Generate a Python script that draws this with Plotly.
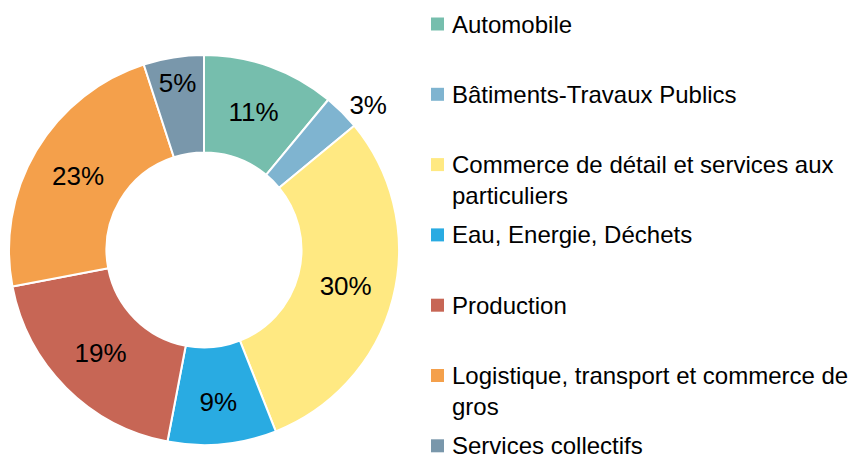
import plotly.graph_objects as go

labels = ["Automobile", "Bâtiments-Travaux Publics",
          "Commerce de détail et services aux particuliers",
          "Eau, Energie, Déchets", "Production",
          "Logistique, transport et commerce de gros", "Services collectifs"]
legend_text = ["Automobile", "Bâtiments-Travaux Publics",
               "Commerce de détail et services aux<br>particuliers",
               "Eau, Energie, Déchets", "Production",
               "Logistique, transport et commerce de<br>gros", "Services collectifs"]
values = [11, 3, 30, 9, 19, 23, 5]
colors = ["#76BEAD", "#7FB4D0", "#FFE982", "#29ABE2", "#C76655", "#F4A04B", "#7997AB"]
text_pos = ["inside", "outside", "inside", "inside", "inside", "inside", "inside"]

FONT = "Liberation Sans Narrow, Arial Narrow, Liberation Sans, Arial, sans-serif"
W, H = 852, 462
cx, cy, r = 204, 250, 195

fig = go.Figure(go.Pie(
    labels=labels, values=values, sort=False, direction="clockwise", rotation=0,
    hole=0.5, marker=dict(colors=colors, line=dict(color="white", width=2)),
    texttemplate="%{value}%", textposition=text_pos,
    insidetextorientation="horizontal",
    textfont=dict(family=FONT, size=26, color="black"),
    showlegend=False, hoverinfo="label+value",
    domain=dict(x=[(cx - r) / W, (cx + r) / W], y=[(H - cy - r) / H, (H - cy + r) / H]),
))

y0, step, lh = 24, 70.3, 31.2
for i, (t, c) in enumerate(zip(legend_text, colors)):
    yc = y0 + i * step
    nlines = t.count("<br>") + 1
    fig.add_shape(type="rect", xref="paper", yref="paper",
                  x0=431 / W, x1=444 / W, y0=1 - (yc - 6.5) / H, y1=1 - (yc + 6.5) / H,
                  fillcolor=c, line=dict(width=0))
    fig.add_annotation(xref="paper", yref="paper", x=451 / W,
                       y=1 - (yc + (nlines - 1) * lh / 2) / H,
                       xanchor="left", yanchor="middle", text=t, showarrow=False,
                       align="left", borderpad=0,
                       font=dict(family=FONT, size=24, color="black"))

fig.update_layout(width=W, height=H, margin=dict(l=0, r=0, t=0, b=0),
                  paper_bgcolor="white", plot_bgcolor="white")
fig.write_html("out.html")
